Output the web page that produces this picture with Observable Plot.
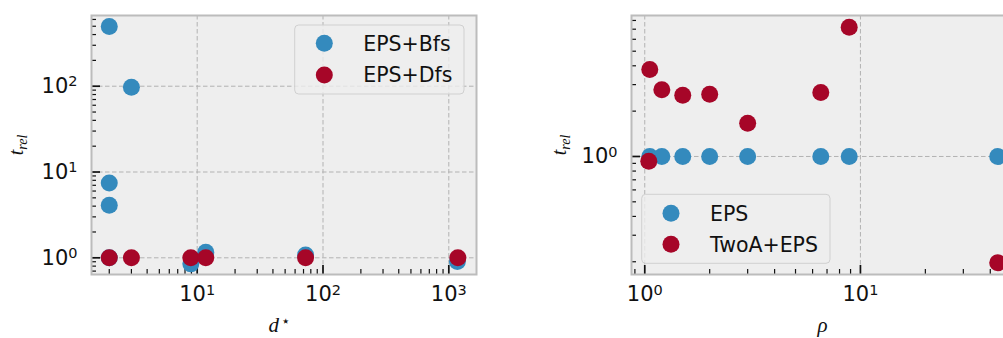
<!DOCTYPE html>
<html><head><meta charset="utf-8">
<script src="https://cdn.jsdelivr.net/npm/d3@7"></script>
<script src="https://cdn.jsdelivr.net/npm/@observablehq/plot@0.6"></script>
<style>
html,body{margin:0;padding:0;background:#fff;overflow:hidden;width:1003px;height:338px;}
#wrap{position:relative;width:1003px;height:338px;overflow:hidden;}
#left{position:absolute;left:0;top:0;width:490px;}
#right{position:absolute;left:500px;top:0;width:520px;}
svg{max-width:none !important;}
</style></head><body><div id="wrap"><div id="left"></div><div id="right"></div></div>
<script>
// ---- data: left panel (d*, t_rel)
const bfsX = [2, 2, 2, 2, 3, 8.9, 11.7, 72.7, 1170];
const bfsY = [497, 7.45, 4.1, 1.0, 97, 0.85, 1.16, 1.08, 0.905];
const dfsX = [2, 3, 8.9, 11.7, 72.7, 1180];
const dfsY = [1, 1, 1, 1, 1, 1];
// ---- data: right panel (rho, t_rel)
const epsX = [1.055, 1.2, 1.5, 2.0, 3.0, 6.55, 8.87, 43.3];
const epsY = [1, 1, 1, 1, 1, 1, 1, 1];
const twoaX = [1.055, 1.044, 1.2, 1.5, 2.0, 3.0, 6.55, 8.87, 43.3];
const twoaY = [3.78, 0.93, 2.77, 2.55, 2.59, 1.66, 2.66, 7.22, 0.197];
// ---- series names / colours
const leftNames = ["EPS+Bfs", "EPS+Dfs"];
const rightNames = ["EPS", "TwoA+EPS"];
const colors = ["#348ABD", "#A60628"];
// ---- ticks
const leftXMajor = [10, 100, 1000];
const leftXMinor = [2,3,4,5,6,7,8,9,20,30,40,50,60,70,80,90,200,300,400,500,600,700,800,900];
const leftYMajor = [1, 10, 100];
const leftYMinor = [0.7,0.8,0.9,2,3,4,5,6,7,8,9,20,30,40,50,60,70,80,90,200,300,400,500,600];
const rightXMajor = [1, 10];
const rightXMinor = [0.9,2,3,4,5,6,7,8,9,20,30,40,50];
const rightYMajor = [1];
const rightYMinor = [0.2,0.3,0.4,0.5,0.6,0.7,0.8,0.9,2,3,4,5,6,7,8];

const H = 338, MT = 15, MB = 64;
const fmt = d => "10^" + Math.round(Math.log10(d));

function panel(o) {
  const innerW = o.width - o.ml - o.mr, innerH = H - MT - MB;
  const grid = {stroke: "#b2b2b2", strokeDasharray: "4.5,2.5", strokeWidth: 1};
  const marks = [
    Plot.frame({fill: "#eeeeee"}),
    Plot.ruleX(o.xMajor, {x: d => d, ...grid}),
    Plot.ruleY(o.yMajor, {y: d => d, ...grid}),
    Plot.ruleX(o.xMinor, {x: d => d, insetTop: innerH - 5, stroke: "#111", strokeWidth: 1.2}),
    Plot.ruleX(o.xMajor, {x: d => d, insetTop: innerH - 9, stroke: "#111", strokeWidth: 1.7}),
    Plot.ruleY(o.yMinor, {y: d => d, insetRight: innerW - 5, stroke: "#111", strokeWidth: 1.2}),
    Plot.ruleY(o.yMajor, {y: d => d, insetRight: innerW - 9, stroke: "#111", strokeWidth: 1.7}),
  ];
  o.series.forEach((s, i) => {
    marks.push(Plot.dot(s.x.map((x, j) => ({x, y: s.y[j]})), {x: "x", y: "y", r: 8.5, fill: colors[i], stroke: null}));
  });
  marks.push(
    Plot.frame({stroke: "#bcbcbc", strokeWidth: 2}),
    Plot.text(o.xMajor, {x: d => d, frameAnchor: "bottom", lineAnchor: "top", dy: 12, text: fmt, fontSize: 21, fill: "#111"}),
    Plot.text(o.yMajor, {y: d => d, frameAnchor: "left", textAnchor: "end", dx: -14, text: fmt, fontSize: 21, fill: "#111"})
  );
  const svg = Plot.plot({
    width: o.width, height: H,
    marginLeft: o.ml, marginRight: o.mr, marginTop: MT, marginBottom: MB,
    x: {type: "log", domain: o.xDomain, axis: null},
    y: {type: "log", domain: o.yDomain, axis: null},
    style: {fontFamily: "'DejaVu Sans', sans-serif", fontSize: "20px", background: "transparent", overflow: "visible", maxWidth: "none"},
    marks
  });
  const s = d3.select(svg);
  // superscripts for tick labels
  s.selectAll("text").each(function() {
    const m = /^10\^(-?\d+)$/.exec(this.textContent);
    if (!m) return;
    const t = d3.select(this);
    t.text(null);
    t.append("tspan").text("10");
    t.append("tspan").attr("dy", "-0.45em").attr("font-size", "14.5px").text(m[1]);
  });
  // axis labels
  const cx = o.ml + innerW / 2;
  const xl = s.append("text").attr("x", cx + o.xlDx).attr("y", 332).attr("text-anchor", "middle")
    .attr("font-family", "'Liberation Serif', serif").attr("font-style", "italic").attr("font-size", 21).attr("fill", "#111");
  xl.append("tspan").text(o.xLabel[0]);
  if (o.xLabel[1]) xl.append("tspan").attr("dx", 2).attr("dy", "-0.4em").attr("font-size", 15).attr("font-style", "normal").attr("font-family", "'DejaVu Sans'").text(o.xLabel[1]);
  const yl = s.append("text").attr("transform", `translate(${o.ylX},145) rotate(-90)`).attr("text-anchor", "middle")
    .attr("font-family", "'Liberation Serif', serif").attr("font-style", "italic").attr("font-size", 20).attr("fill", "#111");
  yl.append("tspan").text("t");
  yl.append("tspan").attr("dy", "0.3em").attr("font-size", 14).text("rel");
  // legend
  const L = o.legend;
  const g = s.append("g").attr("text-anchor", "start");
  g.append("rect").attr("x", L.x).attr("y", L.y).attr("width", L.w).attr("height", L.h).attr("rx", 4)
    .attr("fill", "#eeeeee").attr("fill-opacity", 0.8).attr("stroke", "#d0d0d0").attr("stroke-width", 1);
  o.names.forEach((n, i) => {
    const yy = L.y + L.r0 + i * L.dy;
    g.append("circle").attr("cx", L.mx).attr("cy", yy).attr("r", 8.5).attr("fill", colors[i]);
    g.append("text").attr("x", L.tx).attr("y", yy).attr("dy", "0.36em").attr("font-size", 20.5).attr("fill", "#111")
      .attr("text-anchor", "start").attr("font-family", "'DejaVu Sans', sans-serif").text(n);
  });
  return svg;
}

document.getElementById("left").appendChild(panel({
  width: 490, ml: 91, mr: 14,
  xDomain: [1.445, 1660], yDomain: [0.639, 667],
  xMajor: leftXMajor, xMinor: leftXMinor, yMajor: leftYMajor, yMinor: leftYMinor,
  series: [{x: bfsX, y: bfsY}, {x: dfsX, y: dfsY}],
  names: leftNames, xLabel: ["d", "\u22C6"], xlDx: -4, ylX: 23,
  legend: {x: 294.7, y: 25, w: 169.3, h: 69, r0: 18.3, dy: 31.7, mx: 324.3, tx: 363.3}
}));
document.getElementById("right").appendChild(panel({
  width: 520, ml: 131, mr: 6,
  xDomain: [0.868, 51.8], yDomain: [0.1646, 8.63],
  xMajor: rightXMajor, xMinor: rightXMinor, yMajor: rightYMajor, yMinor: rightYMinor,
  series: [{x: epsX, y: epsY}, {x: twoaX, y: twoaY}],
  names: rightNames, xLabel: ["\u03C1"], xlDx: 0, ylX: 66,
  legend: {x: 141.7, y: 194.3, w: 188.3, h: 69, r0: 19, dy: 31, mx: 171, tx: 210}
}));
</script></body></html>
